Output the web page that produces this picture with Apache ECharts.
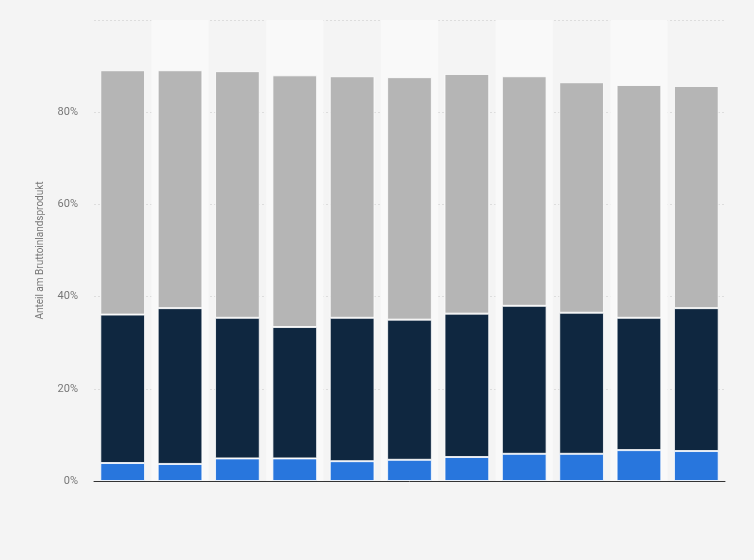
<!DOCTYPE html>
<html>
<head>
<meta charset="utf-8">
<script src="https://cdn.jsdelivr.net/npm/echarts@6/dist/echarts.min.js"></script>
<style>
  html, body { margin: 0; padding: 0; background: #f4f4f4; }
  #chart { width: 754px; height: 560px; }
</style>
</head>
<body>
<div id="chart"></div>
<script>
// Jahre (Achsenbeschriftung im Original ausgeblendet)
const years = ["2008", "2009", "2010", "2011", "2012", "2013", "2014", "2015", "2016", "2017", "2018"];
// Anteile in Prozent, von unten nach oben gestapelt
const agriculture = [3.9, 3.7, 4.9, 4.9, 4.3, 4.6, 5.2, 5.9, 5.9, 6.7, 6.5];
const industry = [32.2, 33.8, 30.5, 28.5, 31.1, 30.4, 31.1, 32.1, 30.6, 28.7, 31.0];
const services = [53.0, 51.6, 53.5, 54.6, 52.4, 52.6, 52.0, 49.8, 50.0, 50.5, 48.2];
const yTicks = [0, 20, 40, 60, 80];

const barStyle = (color) => ({
  color: color,
  borderColor: "rgba(255,255,255,0.8)",
  borderWidth: 1
});

const chart = echarts.init(document.getElementById("chart"));
chart.setOption({
  backgroundColor: "#f4f4f4",
  animation: false,
  grid: { left: 94, right: 29, top: 20, bottom: 79 },
  xAxis: {
    type: "category",
    data: years,
    axisLine: { lineStyle: { color: "#333333", width: 1 } },
    axisTick: { show: false },
    axisLabel: { show: false },
    splitArea: {
      show: true,
      areaStyle: { color: ["rgba(0,0,0,0)", "#f9f9f9"] }
    }
  },
  yAxis: {
    type: "value",
    min: 0,
    max: 100,
    interval: 20,
    name: "Anteil am Bruttoinlandsprodukt",
    nameLocation: "middle",
    nameGap: 49,
    nameTextStyle: { color: "#777777", fontSize: 10, fontFamily: "Roboto" },
    axisLine: { show: false },
    axisTick: { show: false },
    axisLabel: {
      color: "#777777",
      fontSize: 11,
      fontFamily: "Roboto",
      margin: 16,
      formatter: (v) => (yTicks.indexOf(v) >= 0 ? v + "%" : "")
    },
    splitLine: { lineStyle: { color: "#dddddd", type: [2, 2] } }
  },
  series: [
    {
      name: "Landwirtschaft",
      type: "bar",
      stack: "bip",
      barCategoryGap: "22%",
      data: agriculture,
      itemStyle: barStyle("#2876dd")
    },
    {
      name: "Industrie",
      type: "bar",
      stack: "bip",
      data: industry,
      itemStyle: barStyle("#0f2740")
    },
    {
      name: "Dienstleistungen",
      type: "bar",
      stack: "bip",
      data: services,
      itemStyle: barStyle("#b5b5b5")
    }
  ]
});
</script>
</body>
</html>
